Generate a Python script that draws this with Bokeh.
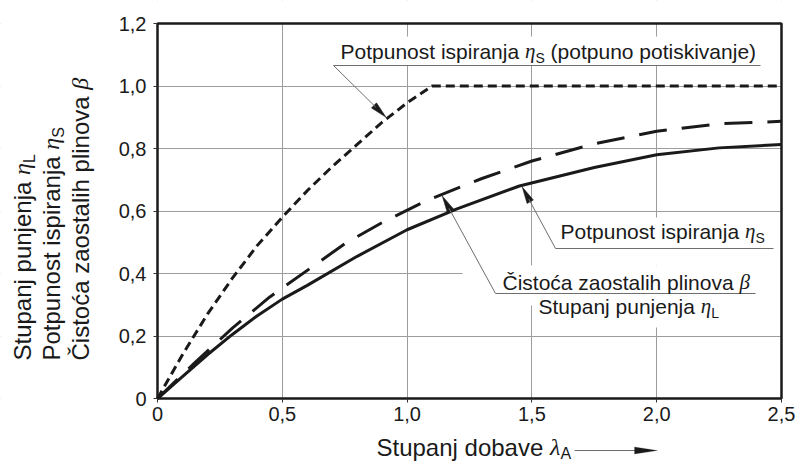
import numpy as np
from bokeh.plotting import figure
from bokeh.models import Label, Range1d, FixedTicker, PolyAnnotation, Arrow
from bokeh.embed import file_html
from bokeh.resources import INLINE

# ---------------- data ----------------
lam_full = [0.0, 0.1, 0.2, 0.3, 0.4, 0.5, 0.6, 0.7, 0.8, 0.9, 1.0, 1.1, 2.5]
eta_s_full = [0.0, 0.14, 0.27, 0.385, 0.49, 0.58, 0.665, 0.742, 0.813, 0.884, 0.946, 1.0, 1.0]

lam_beta = [0.0, 0.15, 0.3, 0.45, 0.6, 0.75, 0.9, 1.08, 1.3, 1.5, 1.75, 2.0, 2.25, 2.5]
beta = [0.0, 0.115, 0.225, 0.325, 0.41, 0.495, 0.563, 0.634, 0.704, 0.76, 0.815, 0.855, 0.879, 0.887]

lam_l = [0.0, 0.1, 0.2, 0.3, 0.4, 0.5, 0.6, 0.8, 1.0, 1.2, 1.45, 1.75, 2.0, 2.25, 2.5]
eta_l = [0.0, 0.07, 0.14, 0.205, 0.265, 0.318, 0.362, 0.455, 0.54, 0.607, 0.68, 0.739, 0.78, 0.802, 0.813]

x_ticks = [0, 0.5, 1.0, 1.5, 2.0, 2.5]
x_tick_labels = ["0", "0,5", "1,0", "1,5", "2,0", "2,5"]
y_ticks = [0, 0.2, 0.4, 0.6, 0.8, 1.0, 1.2]
y_tick_labels = ["0", "0,2", "0,4", "0,6", "0,8", "1,0", "1,2"]

# ---------------- layout constants (page pixels) ----------------
W, H = 797, 462
X0, Y0 = 157.0, 398.0          # page position of the data origin
XR, YT = 781.0, 23.0            # page position of (2.5, 1.2)
SX, SY = (XR - X0) / 2.5, (Y0 - YT) / 1.2
INK = "#1a1a1a"
GRID = "#9c9c9c"
LEAD = "#6e6e6e"
SANS = "Liberation Sans"
SERIF = "Liberation Serif"
BASE_K = 0.3465   # anchor correction (fraction of font size) observed for the text baseline


def to_data(px, py):
    return ((px - X0) / SX, (Y0 - py) / SY)


def to_px(x, y):
    return (X0 + x * SX, Y0 - y * SY)


x_lo, y_hi = to_data(0, 0)
x_hi, y_lo = to_data(W, H)

p = figure(width=W, height=H, min_border=0,
           min_border_left=0, min_border_right=0, min_border_top=0, min_border_bottom=0,
           x_range=Range1d(x_lo, x_hi), y_range=Range1d(y_lo, y_hi),
           output_backend="svg", toolbar_location=None)
p.background_fill_color = "white"
p.border_fill_color = "white"
p.outline_line_color = None

p.xaxis.ticker = FixedTicker(ticks=x_ticks)
p.yaxis.ticker = FixedTicker(ticks=y_ticks)
p.xaxis.major_label_overrides = dict(zip(x_ticks, x_tick_labels))
p.yaxis.major_label_overrides = dict(zip(y_ticks, y_tick_labels))
p.xaxis.fixed_location = 0
p.yaxis.fixed_location = 0
p.xaxis.bounds = (x_ticks[0], x_ticks[-1])
p.yaxis.bounds = (y_ticks[0], y_ticks[-1])
p.xgrid.ticker = FixedTicker(ticks=x_ticks)
p.ygrid.ticker = FixedTicker(ticks=y_ticks)
p.grid.grid_line_color = GRID
p.grid.grid_line_width = 1

for ax in (p.xaxis[0], p.yaxis[0]):
    ax.axis_line_color = None
    ax.major_tick_line_color = "#333333"
    ax.major_tick_line_width = 1
    ax.major_tick_out = 4
    ax.major_tick_in = 0
    ax.minor_tick_line_color = None
    ax.major_label_text_font = SANS
    ax.major_label_text_font_size = "20px"
    ax.major_label_text_color = INK
p.yaxis.major_label_standoff = 7
p.xaxis.major_label_standoff = 4

# white masks: outside the plot box, and behind the annotation texts (they interrupt the grid)
boxes_px = [(0, 0, X0, H), (XR, 0, W, H), (0, 0, W, YT), (0, Y0, W, H),
            (333, 36, XR, 65), (555, 217, XR, 265), (462, 265, XR, 305), (535, 305, XR, 327)]
bl, bt, br, bb = [], [], [], []
for (x1, y1, x2, y2) in boxes_px:
    a = to_data(x1, y1)
    b = to_data(x2, y2)
    bl.append(a[0]); bt.append(a[1]); br.append(b[0]); bb.append(b[1])
p.quad(left=bl, right=br, top=bt, bottom=bb, fill_color="white", line_color=None)

# curves
p.line(lam_l, eta_l, line_color=INK, line_width=3)
p.line(lam_beta, beta, line_color=INK, line_width=3, line_dash="28 15")
p.line(lam_full, eta_s_full, line_color=INK, line_width=3, line_dash="9 5")

# plot box
p.quad(left=[x_ticks[0]], right=[x_ticks[-1]], bottom=[y_ticks[0]], top=[y_ticks[-1]],
       fill_color=None, line_color=INK, line_width=2.5)


# ---------------- leader lines with arrow heads ----------------
def leader(x_start_px, y_px, x_end_px, lam_tip, lam_arr, val_arr):
    tip_v = float(np.interp(lam_tip, lam_arr, val_arr))
    tx, ty = to_px(lam_tip, tip_v)
    fx, fy = x_start_px, y_px
    dx, dy = tx - fx, ty - fy
    n = np.hypot(dx, dy)
    ux, uy = dx / n, dy / n
    tx, ty = tx - ux * 1.5, ty - uy * 1.5
    L, hw = 17.0, 3.6
    bx, by = tx - ux * L, ty - uy * L
    nx, ny = -uy, ux
    pts = [(tx, ty), (bx + nx * hw, by + ny * hw), (bx - nx * hw, by - ny * hw)]
    dpts = [to_data(a, b) for a, b in pts]
    p.patch([q[0] for q in dpts], [q[1] for q in dpts], fill_color=INK, line_color=INK, line_width=0.5)
    s0 = to_data(fx, fy)
    s1 = to_data(bx + ux * 3, by + uy * 3)
    e0 = to_data(x_end_px, y_px)
    p.segment(x0=[s0[0], s0[0]], y0=[s0[1], s0[1]], x1=[s1[0], e0[0]], y1=[s1[1], e0[1]],
              line_color=LEAD, line_width=1)


leader(333, 65, 760, 0.92, lam_full, eta_s_full)
leader(555, 248, 773, 1.458, lam_l, eta_l)
leader(495, 293, 755, 1.138, lam_beta, beta)

# ---------------- text with Greek letters and subscripts ----------------
WID = {" ": 278, "(": 333, ")": 333, ",": 278,
       "a": 556, "b": 556, "c": 500, "d": 556, "e": 556, "f": 278, "g": 556, "h": 556, "i": 222,
       "j": 222, "k": 500, "l": 222, "m": 833, "n": 556, "o": 556, "p": 556, "q": 556, "r": 333,
       "s": 500, "t": 278, "u": 556, "v": 500, "w": 722, "x": 500, "y": 500, "z": 500,
       "A": 667, "C": 722, "L": 556, "P": 667, "S": 667, "Č": 722, "ć": 500}
GWID = {"η": 500, "β": 500, "λ": 444}


def tw(text, size, greek):
    tab = GWID if greek else WID
    return sum(tab.get(c, 556) for c in text) * size / 1000.0


def runs_label(runs, px, py, angle=0.0):
    pos = 0.0
    for text, greek, size, shift in runs:
        core = text.lstrip(" ")
        pos += tw(text[:len(text) - len(core)], size, greek)
        off = shift - BASE_K * size
        if angle == 0:
            x, y = px + pos, py + off
        else:
            x, y = px + off, py - pos
        dx, dy = to_data(x, y)
        p.add_layout(Label(x=dx, y=dy, text=core, angle=angle,
                           text_font=SERIF if greek else SANS,
                           text_font_style="italic" if greek else "normal",
                           text_font_size=f"{size}px", text_align="left",
                           text_baseline="alphabetic", text_color=INK))
        pos += tw(core, size, greek)


F, FS, SH = 21, 14, 4
runs_label([("Potpunost ispiranja ", False, F, 0), ("η", True, F, 0), ("S", False, FS, SH),
            (" (potpuno potiskivanje)", False, F, 0)], 340, 58)
runs_label([("Potpunost ispiranja ", False, F, 0), ("η", True, F, 0), ("S", False, FS, SH)], 560, 238)
runs_label([("Čistoća zaostalih plinova ", False, F, 0), ("β", True, F, 0)], 502, 289)
runs_label([("Stupanj punjenja ", False, F, 0), ("η", True, F, 0), ("L", False, FS, SH)], 538, 313)

T, TS, TSH = 24, 16, 5
runs_label([("Stupanj dobave ", False, T, 0), ("λ", True, T, 0), ("A", False, TS, 4)], 376, 455)
runs_label([("Stupanj punjenja ", False, T, 0), ("η", True, T, 0), ("L", False, TS, TSH)], 30, 360, np.pi / 2)
runs_label([("Potpunost ispiranja ", False, T, 0), ("η", True, T, 0), ("S", False, TS, TSH)], 59, 360, np.pi / 2)
runs_label([("Čistoća zaostalih plinova ", False, T, 0), ("β", True, T, 0)], 88, 360, np.pi / 2)

# arrow after the x-axis title
ay = 450
a0 = to_data(574, ay)
a1 = to_data(640, ay)
p.add_layout(Arrow(x_start=a0[0], y_start=a0[1], x_end=a1[0], y_end=a1[1], end=None,
                   line_color=LEAD, line_width=1))
hp = [to_data(634, ay - 3.6), to_data(657, ay), to_data(634, ay + 3.6)]
p.add_layout(PolyAnnotation(xs=[q[0] for q in hp], ys=[q[1] for q in hp],
                            fill_color=INK, fill_alpha=1, line_color=INK, line_width=0.5))

open("out.html", "w").write(file_html(p, INLINE))
